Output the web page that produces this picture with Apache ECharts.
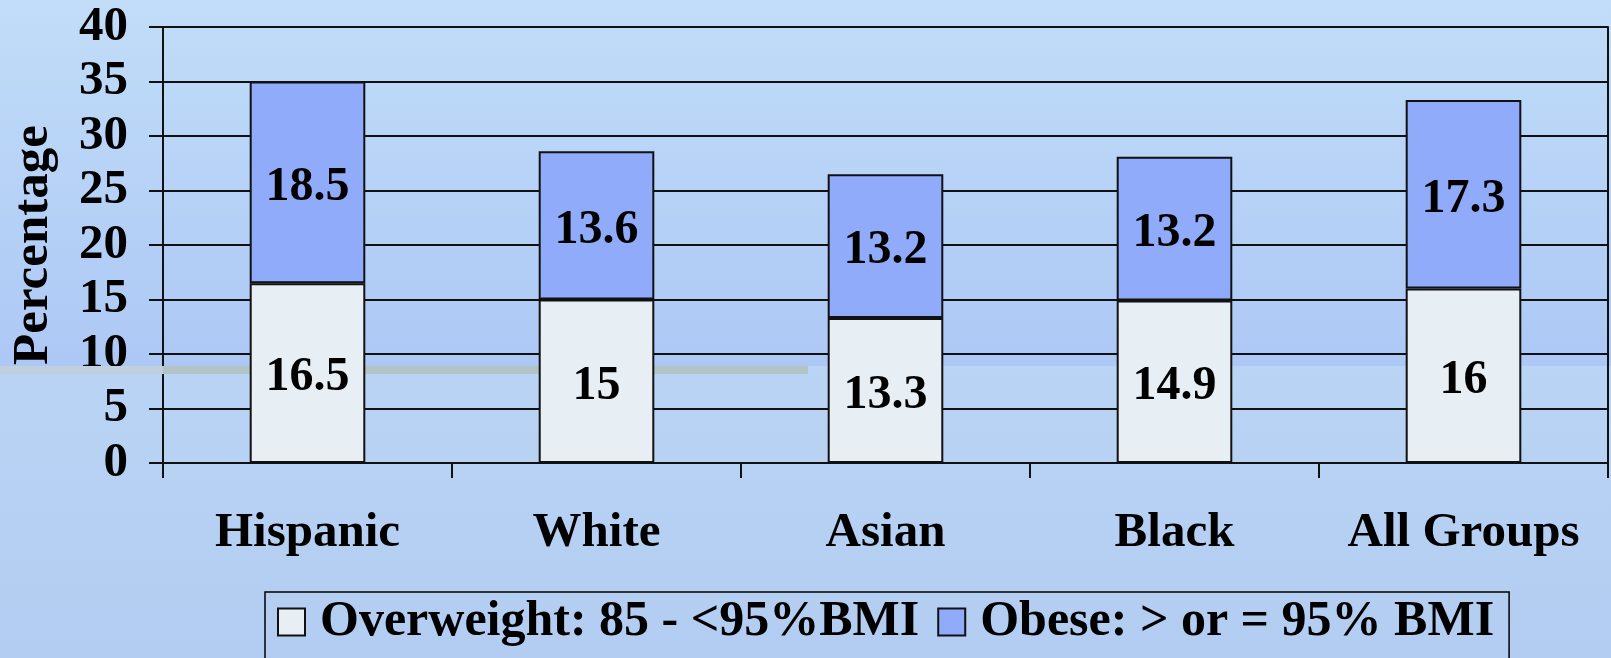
<!DOCTYPE html>
<html>
<head>
<meta charset="utf-8">
<script src="https://cdn.jsdelivr.net/npm/echarts@6/dist/echarts.min.js"></script>
<style>
html,body{margin:0;padding:0;}
#main{width:1611px;height:658px;}
</style>
</head>
<body>
<div id="main"></div>
<script>
const categories = ['Hispanic', 'White', 'Asian', 'Black', 'All Groups'];
const overweight = [16.5, 15, 13.3, 14.9, 16];
const obese = [18.5, 13.6, 13.2, 13.2, 17.3];
const yTicks = [0, 5, 10, 15, 20, 25, 30, 35, 40];
const seriesNames = ['Overweight: 85 - <95%BMI', 'Obese: > or = 95% BMI'];

const FONT = '"Liberation Serif", "Times New Roman", serif';
const chart = echarts.init(document.getElementById('main'));

const labelStyle = {
  show: true, position: 'inside', offset: [0, 5], color: '#000',
  fontFamily: FONT, fontWeight: 'bold', fontSize: 48
};

chart.setOption({
  animation: false,
  backgroundColor: new echarts.graphic.LinearGradient(0, 0, 0, 1, [
    {offset: 0, color: '#c1ddf8'},
    {offset: 0.556, color: '#adc8f5'},
    {offset: 0.557, color: '#b9d4f4'},
    {offset: 1, color: '#b3cdf2'}
  ]),
  graphic: [
    {type: 'rect', z: 1, silent: true, shape: {x: 0, y: 366, width: 163, height: 8}, style: {fill: '#bfd0de'}},
    {type: 'rect', z: 1, silent: true, shape: {x: 163, y: 366, width: 645, height: 8}, style: {fill: '#b3c4c6'}}
  ],
  grid: {left: 163, right: 3, top: 27, bottom: 195, containLabel: false},
  legend: {
    left: 265, top: 592,
    padding: [5, 15, 40, 12],
    borderColor: '#000', borderWidth: 1.5,
    itemWidth: 27, itemHeight: 27, itemGap: 18,
    icon: 'rect',
    textStyle: {fontFamily: FONT, fontWeight: 'bold', fontSize: 50, color: '#000', padding: [0, 0, 0, 10]},
    data: seriesNames
  },
  xAxis: {
    type: 'category',
    data: categories,
    axisLine: {show: true, lineStyle: {color: '#111', width: 2}},
    axisTick: {show: true, interval: 0, length: 15, lineStyle: {color: '#111', width: 2}},
    axisLabel: {interval: 0, fontFamily: FONT, fontWeight: 'bold', fontSize: 49, color: '#000', margin: 46}
  },
  yAxis: [{
    type: 'value', min: yTicks[0], max: yTicks[yTicks.length - 1], interval: 5,
    name: 'Percentage', nameLocation: 'middle', nameRotate: 90, nameGap: 104,
    nameTextStyle: {fontFamily: FONT, fontWeight: 'bold', fontSize: 51, color: '#000'},
    axisLine: {show: true, lineStyle: {color: '#111', width: 2}},
    axisTick: {show: true, length: 14, lineStyle: {color: '#111', width: 2}},
    axisLabel: {fontFamily: FONT, fontWeight: 'bold', fontSize: 49, color: '#000', margin: 35},
    splitLine: {show: true, lineStyle: {color: '#111', width: 2}}
  }, {
    type: 'value', position: 'right', min: 0, max: 40, interval: 5,
    axisLine: {show: true, lineStyle: {color: '#111', width: 2}},
    axisTick: {show: false}, axisLabel: {show: false}, splitLine: {show: false}
  }],
  series: [{
    name: seriesNames[0], type: 'bar', stack: 'total', barWidth: '40%',
    data: overweight,
    itemStyle: {color: '#e8eff4', borderColor: '#111', borderWidth: 2},
    label: labelStyle
  }, {
    name: seriesNames[1], type: 'bar', stack: 'total', barWidth: '40%',
    data: obese,
    itemStyle: {color: '#90abfa', borderColor: '#111', borderWidth: 2},
    label: labelStyle
  }]
});
</script>
</body>
</html>
